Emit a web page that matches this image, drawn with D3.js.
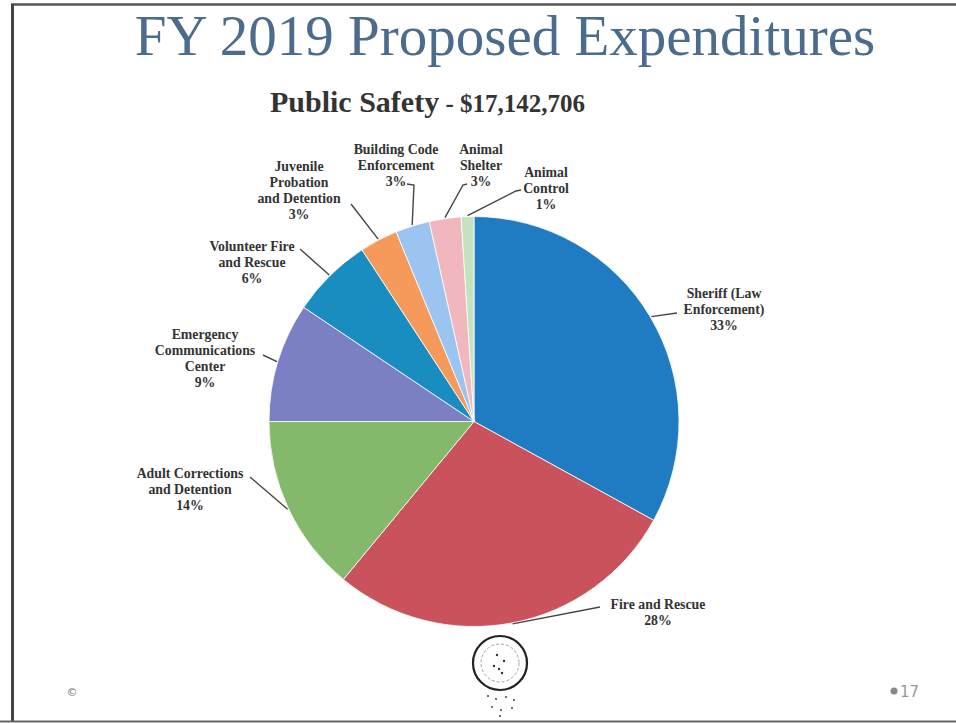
<!DOCTYPE html>
<html>
<head>
<meta charset="utf-8">
<script src="https://cdn.jsdelivr.net/npm/d3@7"></script>
<style>
  html, body { margin: 0; padding: 0; background: #fff; }
  svg { display: block; }
</style>
</head>
<body>
<svg id="chart" width="956" height="723"></svg>
<script>
// Public Safety budget shares (percent of $17,142,706)
const categories = [
  "Sheriff (Law Enforcement)",
  "Fire and Rescue",
  "Adult Corrections and Detention",
  "Emergency Communications Center",
  "Volunteer Fire and Rescue",
  "Juvenile Probation and Detention",
  "Building Code Enforcement",
  "Animal Shelter",
  "Animal Control"
];
const shares = [33, 28, 14, 9.4, 6.4, 3, 2.7, 2.5, 1];
const labelLines = [
  ["Sheriff (Law", "Enforcement)"],
  ["Fire and Rescue"],
  ["Adult Corrections", "and Detention"],
  ["Emergency", "Communications", "Center"],
  ["Volunteer Fire", "and Rescue"],
  ["Juvenile", "Probation", "and Detention"],
  ["Building Code", "Enforcement"],
  ["Animal", "Shelter"],
  ["Animal", "Control"]
];
const sliceColors = ["#1f7bc2", "#c9525c", "#84b86a", "#7b7fc4", "#1a8dc0",
                     "#f59a5a", "#9cc4f0", "#f1b7be", "#c5e2bf"];

const svg = d3.select("#chart");

// page frame
svg.append("line").attr("x1", 11).attr("x2", 956).attr("y1", 4.5).attr("y2", 4.5)
  .attr("stroke", "#555").attr("stroke-width", 2.5);
svg.append("line").attr("x1", 12.5).attr("x2", 12.5).attr("y1", 4).attr("y2", 722)
  .attr("stroke", "#444").attr("stroke-width", 3);
svg.append("line").attr("x1", 0).attr("x2", 956).attr("y1", 721.5).attr("y2", 721.5)
  .attr("stroke", "#666").attr("stroke-width", 2);

// titles
svg.append("text")
  .attr("x", 505).attr("y", 55)
  .attr("text-anchor", "middle")
  .attr("font-family", "'Liberation Serif', 'DejaVu Serif', serif")
  .attr("font-size", 57)
  .attr("fill", "#4b6c8c")
  .text("FY 2019 Proposed Expenditures");

const sub = svg.append("text")
  .attr("x", 270).attr("y", 112)
  .attr("font-family", "'Liberation Serif', 'DejaVu Serif', serif")
  .attr("font-weight", "bold")
  .attr("fill", "#333");
sub.append("tspan").attr("font-size", 30).text("Public Safety");
sub.append("tspan").attr("font-size", 25).text(" - $17,142,706");

// pie
const cx = 474, cy = 421.5, radius = 205;
const pie = d3.pie().sort(null).value(d => d.value);
const data = categories.map((c, i) => ({ name: c, value: shares[i], lines: labelLines[i], color: sliceColors[i] }));
const arcs = pie(data);
const arc = d3.arc().innerRadius(0).outerRadius(radius);
const edgeArc = d3.arc().innerRadius(radius + 1).outerRadius(radius + 1);

const g = svg.append("g").attr("transform", `translate(${cx},${cy})`);
g.selectAll("path.slice")
  .data(arcs)
  .join("path")
  .attr("class", "slice")
  .attr("d", arc)
  .attr("fill", d => d.data.color)
  .attr("stroke", "#fff")
  .attr("stroke-width", 0.8);

// label placement: text centre x, first baseline, tail of leader, optional elbow
const labelLayout = {
  "Sheriff (Law Enforcement)":        { x: 724, y: 298, tail: [677, 313] },
  "Fire and Rescue":                  { x: 658, y: 609, tail: [600, 607] },
  "Adult Corrections and Detention":  { x: 190, y: 478, tail: [250, 477] },
  "Emergency Communications Center":  { x: 205, y: 339, tail: [263, 355] },
  "Volunteer Fire and Rescue":        { x: 252, y: 251, tail: [300, 249] },
  "Juvenile Probation and Detention": { x: 299, y: 171, tail: [351, 204] },
  "Building Code Enforcement":        { x: 396, y: 154, tail: [407, 184], elbow: [414, 185] },
  "Animal Shelter":                   { x: 481, y: 154, tail: [467, 184], elbow: [463, 185] },
  "Animal Control":                   { x: 546, y: 177, tail: [521, 190], elbow: [516, 191] }
};
const lineGap = 16;

const labels = svg.append("g")
  .attr("font-family", "'Liberation Serif', 'DejaVu Serif', serif")
  .attr("font-weight", "bold")
  .attr("font-size", 13.8)
  .attr("fill", "#333");

arcs.forEach(a => {
  const L = labelLayout[a.data.name];
  const t = labels.append("text").attr("text-anchor", "middle");
  const allLines = a.data.lines.concat([Math.round(a.data.value) + "%"]);
  allLines.forEach((ln, i) => {
    t.append("tspan").attr("x", L.x).attr("y", L.y + i * lineGap).text(ln);
  });
  const [ex, ey] = edgeArc.centroid(a);
  const pts = [L.tail];
  if (L.elbow) pts.push(L.elbow);
  pts.push([cx + ex, cy + ey]);
  svg.append("path")
    .attr("d", d3.line()(pts))
    .attr("fill", "none")
    .attr("stroke", "#444")
    .attr("stroke-width", 1.4);
});

// county seal below the pie
const seal = svg.append("g").attr("transform", "translate(500,663)");
seal.append("circle").attr("r", 27).attr("fill", "none").attr("stroke", "#222").attr("stroke-width", 2.2);
seal.append("circle").attr("r", 19).attr("fill", "none").attr("stroke", "#888").attr("stroke-width", 0.8)
  .attr("stroke-dasharray", "3 2");
seal.selectAll("circle.dot")
  .data([[-3, -8], [4, -2], [-1, 6], [2, 10], [-6, 3]])
  .join("circle").attr("class", "dot")
  .attr("cx", d => d[0]).attr("cy", d => d[1]).attr("r", 1.2).attr("fill", "#333");
seal.selectAll("circle.tail")
  .data([[-12, 33], [-4, 36], [6, 34], [14, 37], [-8, 44], [1, 47], [12, 45], [0, 53]])
  .join("circle").attr("class", "tail")
  .attr("cx", d => d[0]).attr("cy", d => d[1]).attr("r", 1).attr("fill", "#444");

// footer marks
svg.append("text").attr("x", 72).attr("y", 696).attr("text-anchor", "middle")
  .attr("font-family", "'DejaVu Sans', sans-serif").attr("font-size", 11)
  .attr("fill", "#777").text("©");
svg.append("circle").attr("cx", 894).attr("cy", 691).attr("r", 3.5).attr("fill", "#888");
svg.append("text").attr("x", 900).attr("y", 697)
  .attr("font-family", "'DejaVu Sans', sans-serif").attr("font-size", 15)
  .attr("fill", "#999").text("17");
</script>
</body>
</html>
